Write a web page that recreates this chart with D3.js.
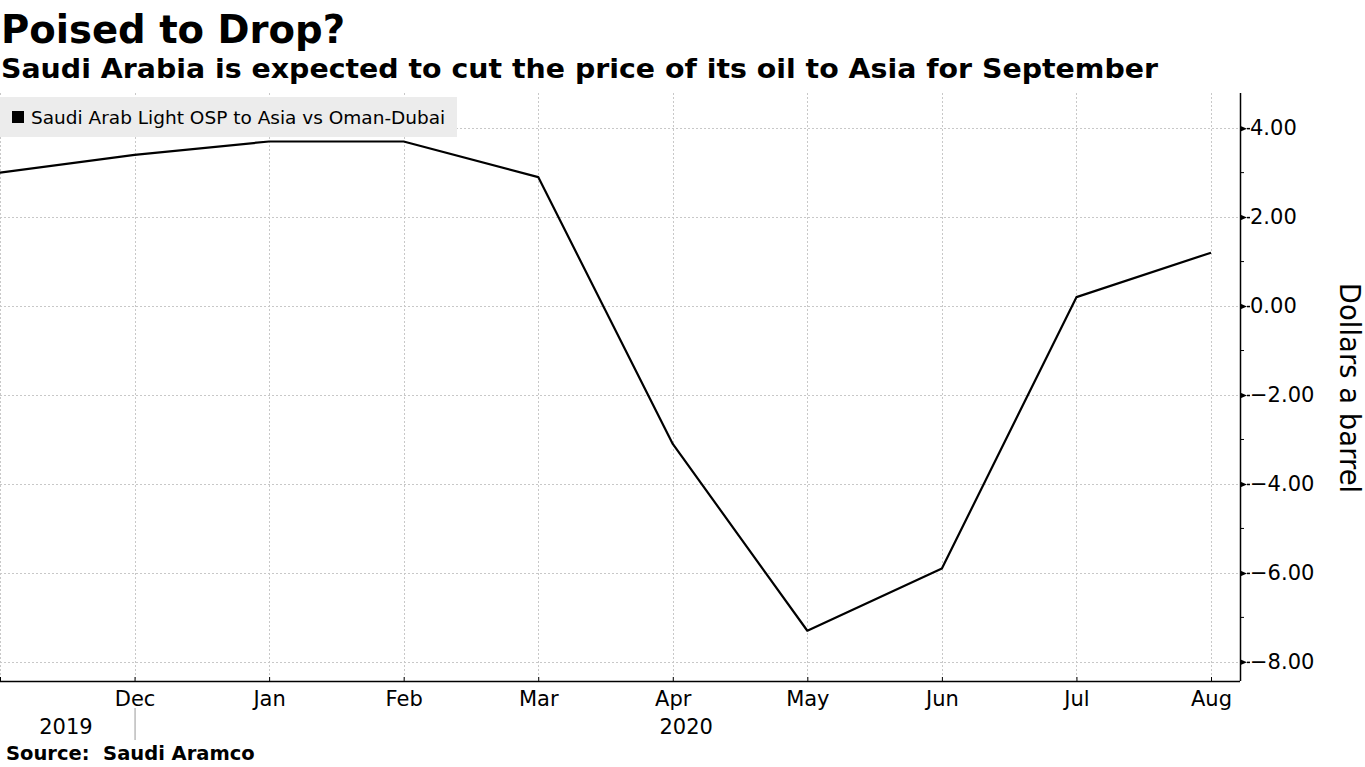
<!DOCTYPE html>
<html>
<head>
<meta charset="utf-8">
<script src="https://cdn.jsdelivr.net/npm/d3@7"></script>
<style>
  html, body { margin: 0; padding: 0; background: #fff; }
  svg { display: block; }
  text { font-family: "DejaVu Sans", Verdana, sans-serif; fill: #000; }
</style>
</head>
<body>
<svg id="chart" width="1365" height="767"></svg>
<script>
// ---- data ----
const months = ["Nov", "Dec", "Jan", "Feb", "Mar", "Apr", "May", "Jun", "Jul", "Aug"];
const values = [3.0, 3.4, 3.7, 3.7, 2.9, -3.1, -7.3, -5.9, 0.2, 1.2];
const yTicks = [4, 2, 0, -2, -4, -6, -8];
const yMinorTicks = [3, 1, -1, -3, -5, -7];
const yearLabels = [{ label: "2019", at: "Nov", offset: 0.49 }, { label: "2020", at: "Apr", offset: 0.1 }];
const title = "Poised to Drop?";
const subtitle = "Saudi Arabia is expected to cut the price of its oil to Asia for September";
const seriesName = "Saudi Arab Light OSP to Asia vs Oman-Dubai";
const yTitle = "Dollars a barrel";
const source = "Source:  Saudi Aramco";

// ---- layout ----
const svg = d3.select("#chart");
const plotLeft = 0, plotRight = 1240, plotTop = 93, plotBottom = 681;

const x = d3.scalePoint().domain(months).range([0, 1211]);
const y = d3.scaleLinear().domain([-8.43, 4.79]).range([plotBottom, plotTop]);

// grid
const grid = svg.append("g");
grid.selectAll("line.h").data(yTicks).join("line")
  .attr("x1", plotLeft).attr("x2", plotRight)
  .attr("y1", d => Math.round(y(d)) + 0.5).attr("y2", d => Math.round(y(d)) + 0.5)
  .attr("stroke", "#c8c8c8").attr("stroke-width", 1).attr("stroke-dasharray", "2,2");
grid.selectAll("line.v").data(months).join("line")
  .attr("x1", d => Math.round(x(d)) + 0.5).attr("x2", d => Math.round(x(d)) + 0.5)
  .attr("y1", plotTop).attr("y2", plotBottom)
  .attr("stroke", "#c8c8c8").attr("stroke-width", 1).attr("stroke-dasharray", "2,2");

// legend
const lg = svg.append("g");
lg.append("rect").attr("x", 0).attr("y", 97).attr("width", 457).attr("height", 40).attr("fill", "#ececec");
lg.append("rect").attr("x", 12).attr("y", 111).attr("width", 12).attr("height", 12).attr("fill", "#000");
lg.append("text").attr("x", 31).attr("y", 124).attr("font-size", 18.5).text(seriesName);

// line
const line = d3.line().x((d, i) => x(months[i])).y(d => y(d));
svg.append("path").datum(values).attr("d", line)
  .attr("fill", "none").attr("stroke", "#000").attr("stroke-width", 2.2).attr("stroke-linejoin", "round");

// x axis
const xAxis = d3.axisBottom(x).tickSize(5).tickPadding(3).tickFormat(d => d === "Nov" ? "" : d);
const gx = svg.append("g").attr("transform", `translate(0,${plotBottom})`).call(xAxis);
gx.select(".domain").attr("d", `M0,0.5H${plotRight}`).attr("stroke", "#000").attr("stroke-width", 1.5);
gx.selectAll(".tick line").attr("stroke", "#000").attr("y1", -4).attr("y2", 0);
gx.selectAll(".tick text").attr("font-size", 21).attr("font-family", "DejaVu Sans").attr("fill", "#111").attr("dy", "0.8em");

// year labels
svg.append("g").selectAll("text").data(yearLabels).join("text")
  .attr("x", d => x(d.at) + d.offset * 134.6)
  .attr("y", 734).attr("text-anchor", "middle").attr("font-size", 21).attr("fill", "#111")
  .text(d => d.label);
svg.append("line").attr("x1", x("Dec") + 0.5).attr("x2", x("Dec") + 0.5).attr("y1", 708).attr("y2", 740)
  .attr("stroke", "#999").attr("stroke-width", 1);

// y axis (right)
const yAxis = d3.axisRight(y).tickValues(yTicks).tickSize(0).tickPadding(10).tickFormat(d3.format(".2f"));
const gy = svg.append("g").attr("transform", `translate(${plotRight},0)`).call(yAxis);
gy.select(".domain").attr("d", `M0.5,${plotTop}V${plotBottom}`).attr("stroke", "#000").attr("stroke-width", 1.5);
gy.selectAll(".tick text").attr("font-size", 21).attr("fill", "#111");
gy.selectAll(".tick").append("path").attr("d", "M0,-3L7,0L0,3Z").attr("fill", "#000");
gy.selectAll(".tick").append("line").attr("x1", 7).attr("x2", 10).attr("stroke", "#000").attr("stroke-width", 1.5);
gy.selectAll("line.minor").data(yMinorTicks).join("line")
  .attr("x1", 0).attr("x2", 4)
  .attr("y1", d => y(d)).attr("y2", d => y(d))
  .attr("stroke", "#000").attr("stroke-width", 1);

// y title
svg.append("text").attr("transform", `translate(1340,388) rotate(90)`)
  .attr("text-anchor", "middle").attr("font-size", 27.5).attr("fill", "#111").text(yTitle);

// titles
svg.append("text").attr("x", 1).attr("y", 43).attr("font-size", 39).attr("font-weight", "bold")
  .attr("textLength", 344).attr("lengthAdjust", "spacingAndGlyphs").text(title);
svg.append("text").attr("x", 1).attr("y", 78).attr("font-size", 27).attr("font-weight", "bold")
  .attr("textLength", 1157).attr("lengthAdjust", "spacingAndGlyphs").text(subtitle);
svg.append("text").attr("x", 6).attr("y", 760).attr("font-size", 19.5).attr("font-weight", "bold")
  .style("white-space", "pre").text(source);
</script>
</body>
</html>
